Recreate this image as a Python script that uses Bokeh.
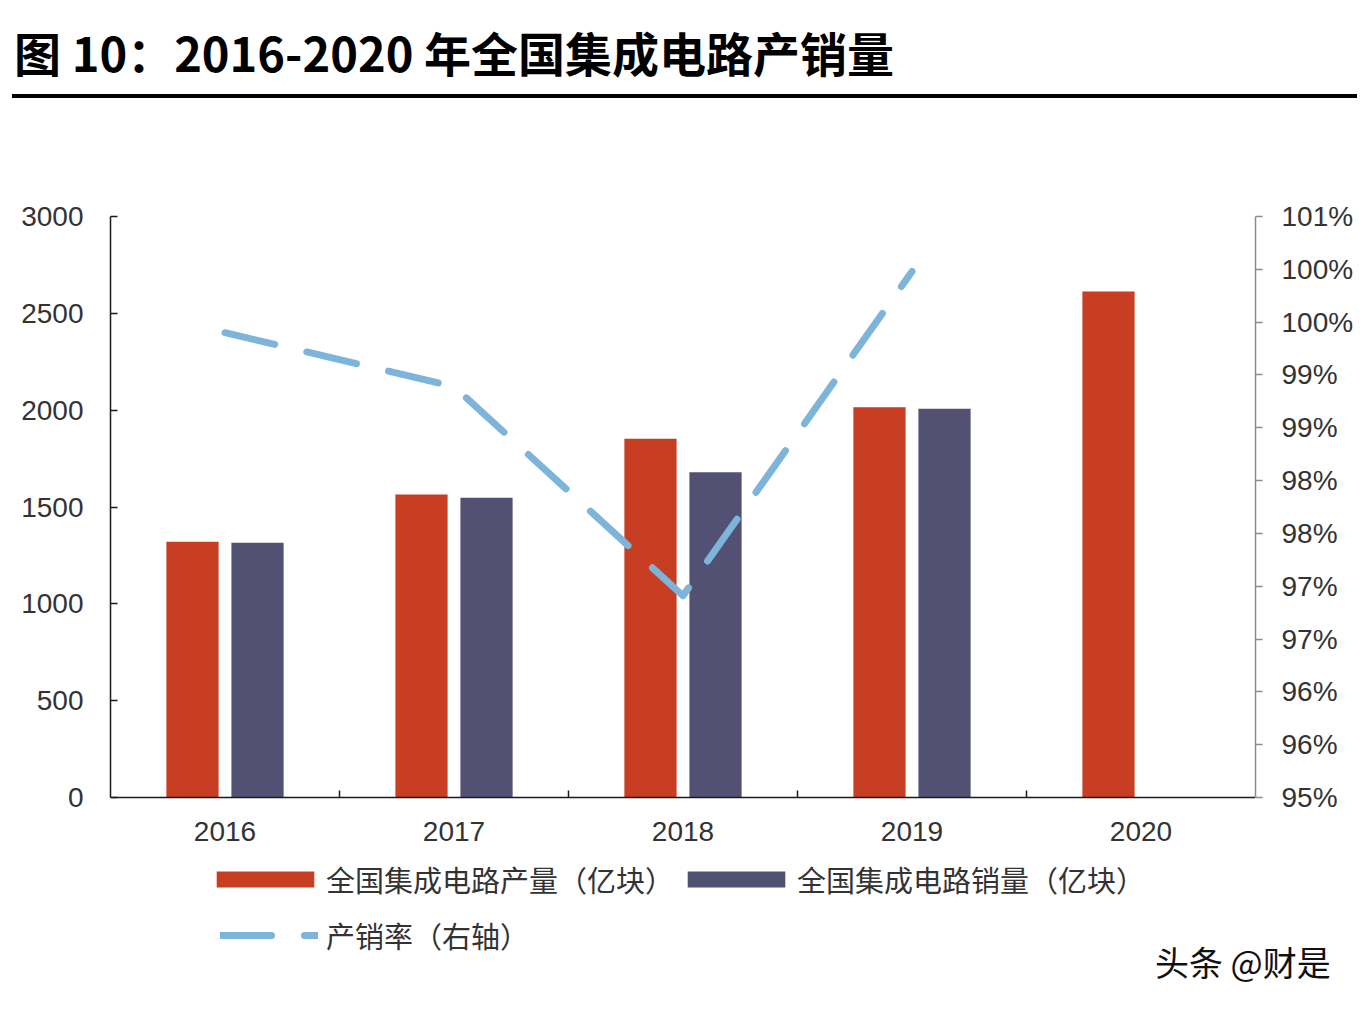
from bokeh.plotting import figure
from bokeh.models import (FactorRange, Range1d, LinearAxis, FixedTicker, CustomJSTickFormatter,
                          Legend, LegendItem, Div, ColumnDataSource)
from bokeh.transform import dodge
from bokeh.layouts import column
from bokeh.embed import file_html
from bokeh.resources import INLINE

# ---------------- data ----------------
years = ["2016", "2017", "2018", "2019", "2020"]
production = [1320, 1564, 1852, 2015, 2613]          # 全国集成电路产量（亿块）
sales_years = ["2016", "2017", "2018", "2019"]
sales = [1315, 1548, 1680, 2007]                      # 全国集成电路销量（亿块）
rate_years = ["2016", "2017", "2018", "2019"]
rate = [99.40, 98.89, 96.91, 99.98]                   # 产销率（%）
left_ticks = [0, 500, 1000, 1500, 2000, 2500, 3000]
right_ticks = [95.0, 95.5, 96.0, 96.5, 97.0, 97.5, 98.0, 98.5, 99.0, 99.5, 100.0, 100.5]
boundary_years = ["2016", "2017", "2018", "2019"]

title_text = "图 10：2016-2020 年全国集成电路产销量"
label_prod = "全国集成电路产量（亿块）"
label_sales = "全国集成电路销量（亿块）"
label_rate = "产销率（右轴）"
watermark = "头条 @财是"

RED = "#C73E22"
NAVY = "#535173"
BLUE = "#7DB4D9"
TXT = "#333333"
CJK = "Noto Sans CJK SC"
LAT = "Liberation Sans"

# ---------------- layout constants (pixels) ----------------
FRAME_W = 1145
PLOT_H = 581          # height of the value area (0..3000)
FRAME_H = 759         # frame also holds the legend area under the axis
EXTRA = FRAME_H - PLOT_H
Y_MAX = 3000
R_MIN, R_MAX = 95.0, 100.5
y_start = -Y_MAX * EXTRA / PLOT_H
r_start = R_MIN - (R_MAX - R_MIN) * EXTRA / PLOT_H
TICK_LEN = Y_MAX * 7 / PLOT_H

src_p = ColumnDataSource(dict(year=years, v=production))
src_s = ColumnDataSource(dict(year=sales_years, v=sales))
src_r = ColumnDataSource(dict(year=rate_years, v=rate))
src_b = ColumnDataSource(dict(year=boundary_years, y0=[0] * len(boundary_years),
                              y1=[TICK_LEN] * len(boundary_years)))

p = figure(x_range=FactorRange(*years, range_padding=0), y_range=Range1d(y_start, Y_MAX),
           frame_width=FRAME_W, frame_height=FRAME_H, output_backend="svg", toolbar_location=None,
           min_border_left=110, min_border_right=101, min_border_top=118, min_border_bottom=0)
p.extra_y_ranges = {"rate": Range1d(r_start, R_MAX)}
p.outline_line_color = None
p.grid.visible = False
p.background_fill_color = "white"
p.border_fill_color = "white"

r1 = p.vbar(x=dodge("year", -0.142, range=p.x_range), top="v", width=0.228, source=src_p,
            fill_color=RED, line_color=None)
r2 = p.vbar(x=dodge("year", 0.142, range=p.x_range), top="v", width=0.228, source=src_s,
            fill_color=NAVY, line_color=None)
rl = p.line(x="year", y="v", source=src_r, y_range_name="rate", line_color=BLUE,
            line_width=7, line_dash="51 33", line_cap="round", line_join="round")

# category-boundary ticks on the x axis (pointing inward)
p.segment(x0=dodge("year", 0.5, range=p.x_range), x1=dodge("year", 0.5, range=p.x_range),
          y0="y0", y1="y1", source=src_b, line_color="#1a1a1a", line_width=1.5)

# left axis
ya = p.yaxis[0]
ya.ticker = FixedTicker(ticks=left_ticks)
ya.bounds = (0, Y_MAX)
ya.major_tick_in = 7
ya.major_tick_out = 0
ya.minor_tick_line_color = None
ya.axis_line_color = "#1a1a1a"
ya.axis_line_width = 1.5
ya.major_tick_line_color = "#1a1a1a"
ya.major_tick_line_width = 1.5
ya.major_label_standoff = 27
ya.major_label_text_font = LAT
ya.major_label_text_font_size = "28px"
ya.major_label_text_color = TXT

# bottom axis, drawn at value 0
xa = p.xaxis[0]
xa.fixed_location = 0
xa.major_tick_line_color = None
xa.minor_tick_line_color = None
xa.axis_line_color = "#1a1a1a"
xa.axis_line_width = 1.5
xa.major_label_standoff = 18
xa.major_label_text_font = LAT
xa.major_label_text_font_size = "28px"
xa.major_label_text_color = TXT

# right axis
ra = LinearAxis(y_range_name="rate", ticker=FixedTicker(ticks=right_ticks), bounds=(R_MIN, R_MAX),
                formatter=CustomJSTickFormatter(code="return Math.round(tick) + '%';"))
ra.major_tick_in = 0
ra.major_tick_out = 7
ra.minor_tick_line_color = None
ra.axis_line_color = "#8c8c8c"
ra.axis_line_width = 1.5
ra.major_tick_line_color = "#8c8c8c"
ra.major_tick_line_width = 1.5
ra.major_label_standoff = 19
ra.major_label_text_font = LAT
ra.major_label_text_font_size = "28px"
ra.major_label_text_color = TXT
p.add_layout(ra, "right")

# legends
def style_legend(lg, gw, gh, standoff, spacing):
    lg.label_text_font = CJK
    lg.label_text_font_size = "29px"
    lg.label_text_color = TXT
    lg.glyph_width = gw
    lg.glyph_height = gh
    lg.label_standoff = standoff
    lg.spacing = spacing
    lg.padding = 0
    lg.margin = 0
    lg.border_line_color = None
    lg.background_fill_alpha = 0
    lg.orientation = "horizontal"

leg1 = Legend(items=[LegendItem(label=label_prod, renderers=[r1]),
                     LegendItem(label=label_sales, renderers=[r2])], location=(94, 75))
leg2 = Legend(items=[LegendItem(label=label_rate, renderers=[rl])], location=(110, 19))
style_legend(leg1, 122, 20, -5, 1)
style_legend(leg2, 98, 20, 8, 4)
p.add_layout(leg1, "center")
p.add_layout(leg2, "center")

title = Div(text=(
    '<div style="font-family:\'Noto Sans CJK SC\';font-weight:700;font-size:47px;'
    'height:98px;padding-top:10px;line-height:84px;color:#000;margin-left:12px;width:1345px;'
    'padding-left:2px;box-sizing:border-box;border-bottom:4px solid #000;white-space:nowrap;">'
    + title_text + '</div>'), width=1358, height=98, margin=(0, 0, 0, 0))

wm = Div(text=(
    '<div style="position:relative;top:-28px;left:1155px;font-family:\'Noto Sans CJK SC\';'
    'font-size:34px;line-height:30px;color:#111;white-space:nowrap;">'
    + watermark + '</div>'), width=1358, height=30, margin=(0, 0, 0, 0))

layout = column(title, p, wm, spacing=0)
open("out.html", "w").write(file_html(layout, INLINE, title="chart"))
